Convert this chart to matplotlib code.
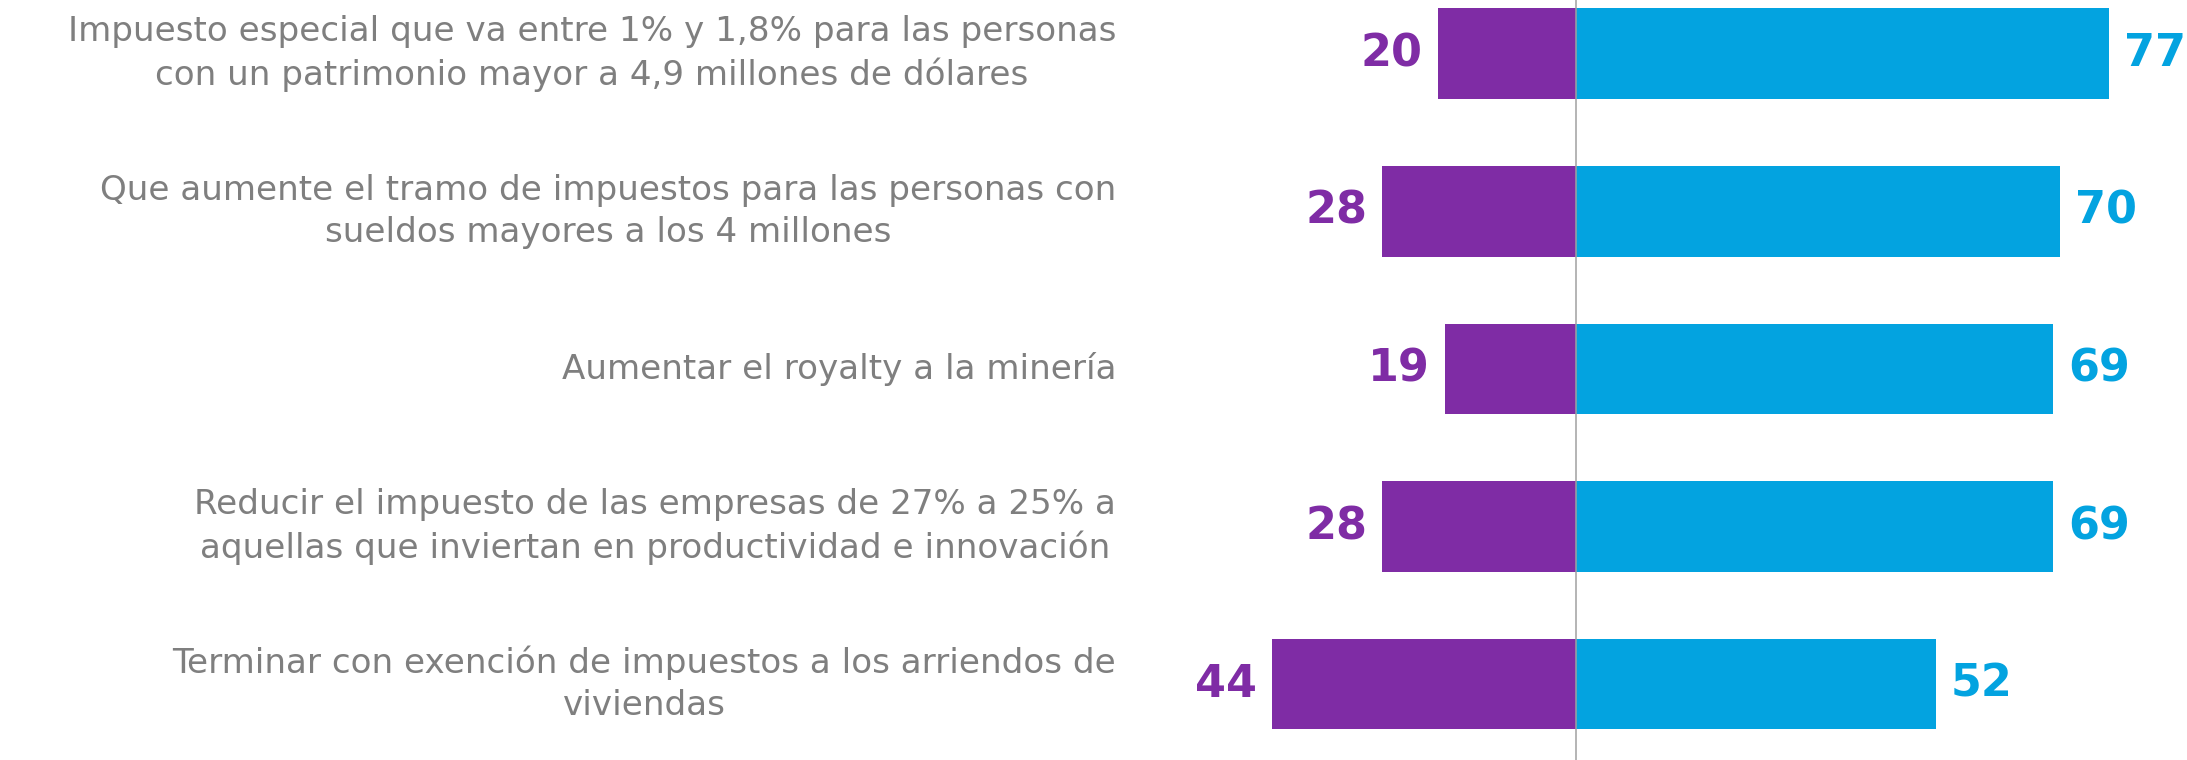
import matplotlib
matplotlib.use("Agg")
import matplotlib.pyplot as plt
import matplotlib.transforms as mtransforms

labels = [
    "Impuesto especial que va entre 1% y 1,8% para las personas\ncon un patrimonio mayor a 4,9 millones de dólares",
    "Que aumente el tramo de impuestos para las personas con\nsueldos mayores a los 4 millones",
    "Aumentar el royalty a la minería",
    "Reducir el impuesto de las empresas de 27% a 25% a\naquellas que inviertan en productividad e innovación",
    "Terminar con exención de impuestos a los arriendos de\nviviendas",
]
en_contra = [20, 28, 19, 28, 44]
a_favor = [77, 70, 69, 69, 52]

purple = "#7f2ca5"
blue = "#03a3e0"
grey = "#7f7f7f"

W, H, dpi = 2187, 760, 100
fig = plt.figure(figsize=(W / dpi, H / dpi), dpi=dpi)
ax = fig.add_axes([0, 0, 1, 1])

# pixel geometry of the reference
cx = 1576.0      # zero line
unit = 6.92      # px per percentage point
pitch = 157.6    # px between bars
top0 = 53.7      # centre of first bar from top
bar_h = 90.7 / pitch

ypos = list(range(len(labels)))
ax.barh(ypos, [-v for v in en_contra], height=bar_h, color=purple)
ax.barh(ypos, a_favor, height=bar_h, color=blue)
ax.set_xlim(-cx / unit, (W - cx) / unit)
ax.set_ylim(len(labels) - 1 + (H - top0 - (len(labels) - 1) * pitch) / pitch, -top0 / pitch)
ax.axvline(0, color="#a0a0a0", lw=1.1)
ax.axis("off")

off = 15 / unit
num_font = dict(fontsize=32, fontweight="bold", family="DejaVu Sans")
for y, v in zip(ypos, en_contra):
    ax.text(-v - off, y, str(v), ha="right", va="center", color=purple, **num_font)
for y, v in zip(ypos, a_favor):
    ax.text(v + off, y, str(v), ha="left", va="center", color=blue, **num_font)

tr = mtransforms.blended_transform_factory(fig.transFigure, ax.transData)
for y, lab in zip(ypos, labels):
    ax.text(1116 / W, y, lab, transform=tr, ha="right", va="center",
            multialignment="center", color=grey, fontsize=24.6,
            family="DejaVu Sans", linespacing=1.35)

fig.savefig("out.png", dpi=dpi, facecolor="white")
